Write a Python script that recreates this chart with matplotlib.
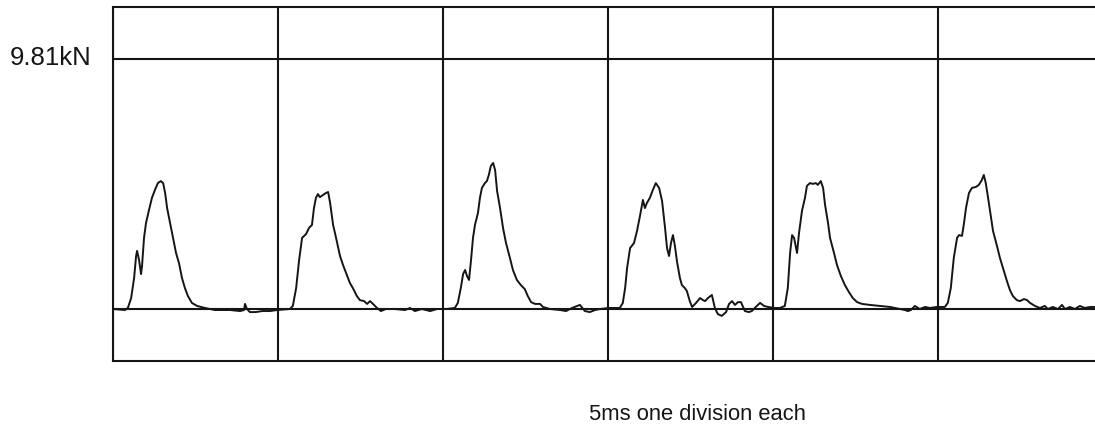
import numpy as np
import matplotlib.pyplot as plt

# force trace (time in ms, force in kN)
# 5 ms per division, reference line at 9.81 kN
t1 = [0.0, 0.36, 0.45, 0.55, 0.64, 0.70, 0.73, 0.79, 0.85, 0.88, 0.94, 1.00, 1.09, 1.18, 1.27, 1.36,
      1.45, 1.52, 1.58, 1.64, 1.73, 1.82, 1.91, 2.00, 2.09, 2.18, 2.27, 2.39, 2.55, 2.79, 3.09, 3.55,
      3.85, 3.97, 4.00, 4.06, 4.15, 4.33, 4.52, 4.76, 4.97]
f1 = [0.0, -0.04, 0.04, 0.43, 1.22, 2.08, 2.28, 1.92, 1.37, 1.69, 2.79, 3.37, 3.88, 4.36, 4.67, 4.94,
      5.02, 4.94, 4.55, 3.96, 3.37, 2.79, 2.20, 1.80, 1.22, 0.82, 0.51, 0.24, 0.12, 0.04, -0.04, -0.04,
      -0.08, -0.04, 0.20, 0.0, -0.12, -0.12, -0.08, -0.08, -0.04]

t2 = [5.36, 5.45, 5.55, 5.64, 5.73, 5.85, 5.94, 6.03, 6.09, 6.15, 6.21, 6.27, 6.36, 6.45, 6.52, 6.58,
      6.67, 6.76, 6.88, 6.97, 7.09, 7.18, 7.27, 7.39, 7.48, 7.61, 7.70, 7.79, 7.91, 8.00, 8.12, 8.27,
      8.54, 8.85, 9.00, 9.15, 9.36, 9.61, 9.82, 10.03]
f2 = [0.0, 0.12, 0.82, 1.92, 2.79, 2.94, 3.18, 3.30, 3.96, 4.36, 4.51, 4.39, 4.47, 4.55, 4.59, 4.16,
      3.30, 2.79, 2.08, 1.73, 1.33, 1.02, 0.82, 0.51, 0.35, 0.31, 0.20, 0.31, 0.16, 0.04, -0.08, 0.0,
      0.0, -0.04, 0.04, -0.08, 0.0, -0.08, 0.0, 0.0]

t3 = [10.09, 10.36, 10.45, 10.54, 10.61, 10.67, 10.73, 10.79, 10.85, 10.91, 10.97, 11.06, 11.12, 11.18,
      11.27, 11.33, 11.39, 11.45, 11.52, 11.58, 11.64, 11.73, 11.82, 11.91, 12.03, 12.12, 12.24, 12.36,
      12.48, 12.57, 12.67, 12.79, 12.94, 13.03, 13.24, 13.55, 13.73, 13.91, 14.15, 14.30, 14.45, 14.61,
      14.76, 15.03]
f3 = [0.0, 0.04, 0.24, 0.82, 1.37, 1.53, 1.29, 1.14, 1.92, 2.79, 3.30, 3.77, 4.36, 4.75,
      4.94, 5.02, 5.26, 5.61, 5.73, 5.45, 4.63, 3.96, 3.18, 2.59, 2.00, 1.53, 1.14, 0.94,
      0.78, 0.51, 0.27, 0.20, 0.20, 0.08, 0.0, -0.04, -0.08, 0.04, 0.16, -0.08, -0.12, -0.04,
      0.0, 0.04]

t4 = [15.21, 15.36, 15.45, 15.52, 15.58, 15.67, 15.79, 15.88, 15.97, 16.06, 16.12, 16.18, 16.27, 16.36,
      16.45, 16.55, 16.64, 16.73, 16.79, 16.85, 16.91, 16.97, 17.03, 17.09, 17.18, 17.24, 17.33, 17.39,
      17.48, 17.55, 17.67, 17.79, 17.88, 17.94, 18.03, 18.15, 18.24, 18.33, 18.45, 18.58, 18.67, 18.76,
      18.85, 18.94, 19.03, 19.15, 19.27, 19.36, 19.48, 19.61, 19.73, 19.85, 20.06]
f4 = [0.04, 0.04, 0.24, 0.82, 1.61, 2.39, 2.59, 3.06, 3.65, 4.28, 3.96, 4.16, 4.36, 4.67,
      4.94, 4.75, 4.24, 3.18, 2.39, 2.08, 2.59, 2.90, 2.47, 1.88, 1.22, 0.94, 0.82, 0.71,
      0.31, 0.08, 0.24, 0.43, 0.35, 0.31, 0.43, 0.55, 0.04, -0.20, -0.27, -0.12, 0.20, 0.31,
      0.16, 0.27, 0.27, -0.08, -0.12, -0.08, 0.08, 0.24, 0.12, 0.08, 0.04]

t5 = [20.21, 20.36, 20.45, 20.52, 20.58, 20.64, 20.73, 20.79, 20.88, 20.97, 21.03, 21.12, 21.21, 21.30,
      21.36, 21.45, 21.52, 21.58, 21.67, 21.73, 21.85, 21.94, 22.06, 22.18, 22.30, 22.42, 22.55, 22.70,
      22.94, 23.24, 23.55, 23.85, 24.00, 24.09, 24.18, 24.30, 24.45, 24.61, 24.76, 24.97]
f5 = [0.04, 0.12, 0.82, 2.20, 2.90, 2.79, 2.20, 2.98, 3.85, 4.36, 4.83, 4.94, 4.91, 4.94,
      4.87, 5.02, 4.75, 4.08, 3.37, 2.79, 2.20, 1.73, 1.29, 0.94, 0.67, 0.43, 0.27, 0.20,
      0.16, 0.12, 0.08, 0.0, -0.04, -0.08, -0.04, 0.12, 0.0, 0.08, 0.04, 0.08]

t6 = [25.21, 25.30, 25.39, 25.48, 25.58, 25.64, 25.73, 25.79, 25.85, 25.94, 26.03, 26.15, 26.24, 26.33,
      26.39, 26.45, 26.52, 26.61, 26.67, 26.79, 26.88, 27.00, 27.09, 27.18, 27.27, 27.39, 27.48, 27.61,
      27.70, 27.79, 27.94, 28.09, 28.24, 28.33, 28.48, 28.64, 28.76, 28.85, 29.00, 29.15, 29.30, 29.45,
      29.61, 29.76]
f6 = [0.08, 0.24, 0.82, 2.00, 2.79, 2.90, 2.87, 3.37, 3.96, 4.55, 4.75, 4.79, 4.87, 5.06,
      5.26, 4.94, 4.36, 3.57, 3.06, 2.47, 2.00, 1.49, 1.10, 0.75, 0.51, 0.35, 0.31, 0.39,
      0.35, 0.24, 0.12, 0.04, 0.12, 0.0, 0.08, 0.0, 0.16, 0.0, 0.08, 0.0, 0.12, 0.04,
      0.08, 0.08]

divisions = [0, 5, 10, 15, 20, 25]
ref_force = 9.81

# join the six impacts into one trace
t = np.concatenate([t1, t2, t3, t4, t5, t6])
f = np.concatenate([f1, f2, f3, f4, f5, f6])

plt.rcParams['font.family'] = ['Liberation Sans', 'DejaVu Sans']

fig = plt.figure(figsize=(10.95, 4.27), dpi=100)
ax = fig.add_axes([113 / 1095, 65 / 427, 1 - 113 / 1095, 354 / 427])

ink = '#151515'
for x in divisions:
    ax.axvline(x, color=ink, lw=1.5)
ax.axhline(0, color=ink, lw=1.5)
ax.axhline(ref_force, color=ink, lw=1.5)

ax.plot(t, f, color=ink, lw=1.4)

ax.set_xlim(0, 29.76)
ax.set_ylim(-2.04, 11.85)
ax.set_xticks([])
ax.set_yticks([])
for side in ['top', 'bottom', 'left']:
    ax.spines[side].set_color(ink)
    ax.spines[side].set_linewidth(1.5)
ax.spines['right'].set_visible(False)

fig.text(10 / 1095, 1 - 58 / 427, '9.81kN', fontsize=18.5, color=ink, ha='left', va='center')
fig.text(697 / 1095, 1 - 415 / 427, '5ms one division each', fontsize=15.8, color=ink,
         ha='center', va='center')

fig.savefig('out.png', dpi=100)
